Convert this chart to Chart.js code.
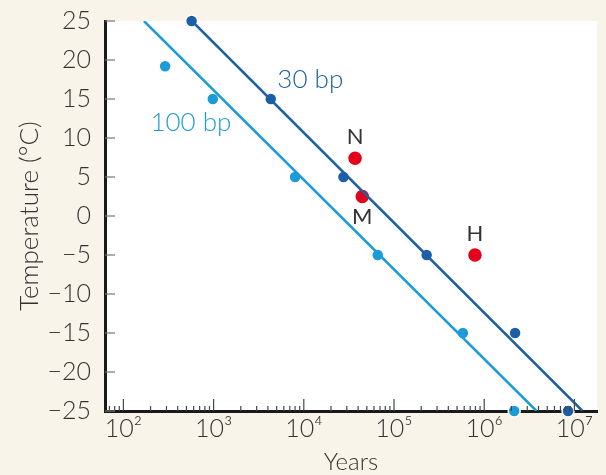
<!DOCTYPE html>
<html>
<head>
<meta charset="utf-8">
<script src="https://cdn.jsdelivr.net/npm/chart.js@4.4.0/dist/chart.umd.min.js"></script>
<style>
  body { margin: 0; background: #f8f4e9; }
  #wrap { width: 606px; height: 475px; }
</style>
</head>
<body>
<div id="wrap"><canvas id="tempChart" width="606" height="475"></canvas></div>
<script>
// 30 bp (dark blue) points
const years30 = [570, 4300, 27500, 230000, 2200000, 8500000];
const temp30 = [25, 15, 5, -5, -15, -25];
// 100 bp (light blue) points
const years100 = [290, 980, 8000, 66000, 580000, 2150000];
const temp100 = [19.2, 15, 5, -5, -15, -25];
// fitted lines (end points)
const fitYears30 = [575, 12300000];
const fitTemp30 = [25, -25];
const fitYears100 = [169, 3800000];
const fitTemp100 = [25, -25];
// red sites
const siteNames = ["N", "M", "H"];
const siteYears = [37000, 44500, 790000];
const siteTemps = [7.4, 2.5, -5];
// axis ticks
const xDecades = [2, 3, 4, 5, 6, 7];
const yTicks = [-25, -20, -15, -10, -5, 0, 5, 10, 15, 20, 25];
const supers = { 2: "²", 3: "³", 4: "⁴", 5: "⁵", 6: "⁶", 7: "⁷" };

const darkBlue = "#1c5fa6";
const lightBlue = "#1b9cd8";
const red = "#e2001a";
const textCol = "#333333";
const fontFam = "Lato, 'Liberation Sans', sans-serif";

function pts(xs, ys) {
    return xs.map((x, i) => ({x: x, y: ys[i]}));
}

const inwardTicks = {
    id: "inwardTicks",
    beforeDraw(chart) {
        let ctx = chart.ctx;
        let a = chart.chartArea;
        ctx.save();
        ctx.fillStyle = "#ffffff";
        ctx.fillRect(a.left, a.top, a.right - a.left, a.bottom - a.top);
        ctx.restore();
    },
    afterDatasetsDraw(chart) {
        let ctx = chart.ctx;
        let xs = chart.scales.x, ys = chart.scales.y;
        let a = chart.chartArea;
        ctx.save();
        ctx.strokeStyle = "#444";
        ctx.lineWidth = 1.2;
        xDecades.forEach(d => {
            for (let m = 1; m <= 9; m++) {
                let v = m * Math.pow(10, d);
                if (v < xs.min || v > xs.max) continue;
                let px = xs.getPixelForValue(v);
                let len = m === 1 ? 12 : 5;
                ctx.beginPath();
                ctx.moveTo(px, a.bottom);
                ctx.lineTo(px, a.bottom - len);
                ctx.stroke();
            }
        });
        for (let m = 7; m <= 9; m++) {
            let v = m * 10;
            if (v < xs.min) continue;
            let px = xs.getPixelForValue(v);
            ctx.beginPath();
            ctx.moveTo(px, a.bottom);
            ctx.lineTo(px, a.bottom - 5);
            ctx.stroke();
        }
        ctx.strokeStyle = "#777";
        yTicks.forEach(t => {
            let py = ys.getPixelForValue(t);
            ctx.beginPath();
            ctx.moveTo(a.left, py);
            ctx.lineTo(a.left + 10, py);
            ctx.stroke();
        });
        // text labels
        ctx.font = "22px " + fontFam;
        ctx.textAlign = "center";
        ctx.textBaseline = "middle";
        ctx.fillStyle = textCol;
        siteNames.forEach((n, i) => {
            let px = xs.getPixelForValue(siteYears[i]);
            let py = ys.getPixelForValue(siteTemps[i]);
            let off = n === "M" ? 20 : -21;
            ctx.fillText(n, px, py + off);
        });
        ctx.font = "300 26px " + fontFam;
        ctx.fillStyle = darkBlue;
        ctx.fillText("30 bp", xs.getPixelForValue(11800), ys.getPixelForValue(17.5));
        ctx.fillStyle = lightBlue;
        ctx.fillText("100 bp", xs.getPixelForValue(560), ys.getPixelForValue(12));
        ctx.restore();
    }
};

let ctx = document.getElementById("tempChart").getContext("2d");

let tempChart = new Chart(ctx, {
    type: "scatter",
    data: {
        datasets: [
            {
                type: "line",
                data: pts(fitYears30, fitTemp30),
                borderColor: darkBlue,
                borderWidth: 2.5,
                pointRadius: 0,
                clip: {left: 0, top: 0, right: 0, bottom: 0}
            },
            {
                type: "line",
                data: pts(fitYears100, fitTemp100),
                borderColor: lightBlue,
                borderWidth: 2.5,
                pointRadius: 0,
                clip: {left: 0, top: 0, right: 0, bottom: 0}
            },
            {
                data: pts(years30, temp30),
                backgroundColor: darkBlue,
                borderColor: "#ffffff",
                borderWidth: 1.5,
                pointRadius: 6,
                clip: false
            },
            {
                data: pts(years100, temp100),
                backgroundColor: lightBlue,
                borderColor: "#ffffff",
                borderWidth: 1.5,
                pointRadius: 6,
                clip: false
            },
            {
                data: pts(siteYears, siteTemps),
                backgroundColor: red,
                borderColor: "#ffffff",
                borderWidth: 1.5,
                pointRadius: 7.5,
                clip: false
            }
        ]
    },
    options: {
        responsive: false,
        animation: false,
        layout: {padding: {left: 0, top: 18, right: 8, bottom: 0}},
        plugins: {
            legend: {display: false},
            tooltip: {enabled: false}
        },
        scales: {
            x: {
                type: "logarithmic",
                min: 62.5,
                max: 17800000,
                grid: {display: false},
                border: {display: true, color: "#1a1a1a", width: 3, z: -1},
                ticks: {
                    autoSkip: false,
                    maxRotation: 0,
                    padding: -5,
                    color: textCol,
                    font: {size: 25, family: fontFam, weight: 300},
                    callback: function (value) {
                        let l = Math.log10(value);
                        if (Math.abs(l - Math.round(l)) < 1e-9 && supers[Math.round(l)]) {
                            return "10" + supers[Math.round(l)];
                        }
                        return "";
                    }
                },
                title: {
                    display: true,
                    text: "Years",
                    color: textCol,
                    font: {size: 24, family: fontFam, weight: 300},
                    padding: {top: 0, bottom: -2}
                },
                afterFit: function (scale) { scale.height = 64; }
            },
            y: {
                min: -25,
                max: 25,
                grid: {display: false},
                border: {display: true, color: "#1a1a1a", width: 3},
                ticks: {
                    stepSize: 5,
                    padding: 6,
                    color: textCol,
                    font: {size: 25, family: fontFam, weight: 300},
                    callback: function (value) {
                        return String(value).replace("-", "\u2212");
                    }
                },
                title: {
                    display: true,
                    text: "Temperature (°C)",
                    color: textCol,
                    font: {size: 26, family: fontFam, weight: 300},
                    padding: {top: 14, bottom: 0}
                },
                afterFit: function (scale) { scale.width = 105; }
            }
        }
    },
    plugins: [inwardTicks]
});
</script>
</body>
</html>
